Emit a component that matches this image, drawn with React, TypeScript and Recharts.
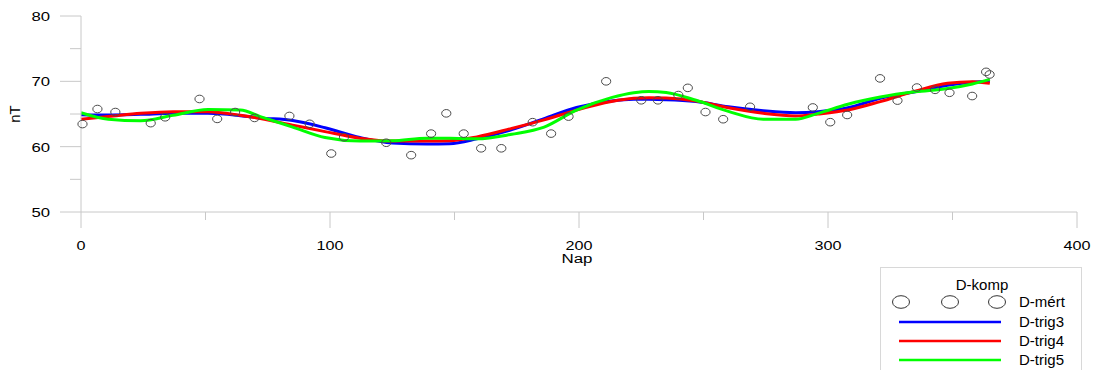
import { ComposedChart, Line, Scatter, XAxis, YAxis, Legend } from "recharts";

// D-komp, nT against Nap (day of year)
const xTicks = [0, 50, 100, 150, 200, 250, 300, 350, 400];
const yTicks = [50, 55, 60, 65, 70, 75, 80];

// measured values (D-mért)
const measDays = [
  0.6, 6.6, 13.8, 28.0, 33.8, 47.6, 54.7, 61.9, 69.7, 83.7, 91.8, 100.5, 105.6, 122.6,
  132.6, 140.6, 146.7, 153.7, 160.7, 168.8, 181.4, 188.8, 195.8, 210.9, 225.0, 231.7,
  239.9, 243.7, 250.8, 257.9, 268.7, 293.9, 300.9, 307.7, 320.9, 327.9, 335.7, 343.0,
  348.8, 357.9, 363.5, 364.9,
];
const measValues = [
  63.46, 65.76, 65.3, 63.6, 64.5, 67.3, 64.25, 65.3, 64.4, 64.7, 63.5, 58.95, 61.45, 60.6,
  58.7, 62.0, 65.1, 62.0, 59.75, 59.75, 63.75, 62.0, 64.6, 70.0, 67.1, 67.1,
  67.9, 69.0, 65.3, 64.2, 66.1, 66.0, 63.75, 64.85, 70.45, 67.05, 69.05, 68.7,
  68.25, 67.75, 71.45, 71.05,
];

const curveDays = [
  0, 11, 24, 37, 51, 64, 72, 85, 98, 112, 125, 139, 148, 159, 173, 186, 199, 213, 222,
  228, 235, 247, 260, 274, 287, 296, 308, 321, 335, 348, 358, 365,
];
const trig3 = [
  64.9, 64.85, 64.95, 65.1, 65.1, 64.75, 64.4, 64.0, 62.9, 61.4, 60.55, 60.4, 60.45, 61.2,
  62.6, 64.3, 66.0, 67.0, 67.25, 67.25, 67.2, 66.9, 66.1, 65.5, 65.2, 65.35, 65.95, 67.4,
  68.4, 69.4, 69.85, 70.0,
];
const trig4 = [
  64.2, 64.6, 65.1, 65.35, 65.35, 64.8, 64.3, 63.3, 62.3, 61.3, 60.85, 60.85, 60.9, 61.5,
  62.8, 64.1, 65.6, 66.9, 67.4, 67.5, 67.45, 67.0, 65.95, 65.1, 64.7, 65.0, 65.6, 66.9,
  68.5, 69.7, 69.95, 69.7,
];
const trig5 = [
  65.2, 64.2, 63.95, 64.8, 65.7, 65.6, 64.6, 63.0, 61.4, 60.85, 60.9, 61.3, 61.3, 61.2,
  61.9, 63.0, 65.6, 67.5, 68.25, 68.45, 68.3, 67.1, 65.4, 64.2, 64.2, 65.1, 66.5, 67.6,
  68.4, 68.9, 69.6, 70.3,
];

const measured = measDays.map((day, i) => ({ day, value: measValues[i] }));
const toLine = (vals: number[]) => curveDays.map((day, i) => ({ day, value: vals[i] }));

const series = [
  { name: "D-trig3", color: "#0000ff", data: toLine(trig3) },
  { name: "D-trig4", color: "#ff0000", data: toLine(trig4) },
  { name: "D-trig5", color: "#00ff00", data: toLine(trig5) },
];

const AXIS = "#c8c8c8";
const FONT = "'Liberation Sans', Arial, sans-serif";

function XTick({ x, y, payload }: any) {
  const major = payload.value % 100 === 0;
  const label = String(payload.value);
  return (
    <g>
      <line x1={x} x2={x} y1={y} y2={y + (major ? 16 : 8)} stroke={AXIS} />
      {major && (
        <text
          x={x}
          y={y + 38}
          textAnchor="middle"
          fontSize={13}
          fontFamily={FONT}
          fill="#000"
          textLength={label.length * 9}
          lengthAdjust="spacingAndGlyphs"
        >
          {label}
        </text>
      )}
    </g>
  );
}

function YTick({ x, y, payload }: any) {
  const major = payload.value % 10 === 0;
  const label = String(payload.value);
  return (
    <g>
      <line x1={x - (major ? 21 : 11)} x2={x} y1={y} y2={y} stroke={AXIS} />
      {major && (
        <text
          x={x - 31}
          y={y + 5}
          textAnchor="end"
          fontSize={13}
          fontFamily={FONT}
          fill="#000"
          textLength={label.length * 9.3}
          lengthAdjust="spacingAndGlyphs"
        >
          {label}
        </text>
      )}
    </g>
  );
}

function Ring({ cx, cy }: any) {
  return <ellipse cx={cx} cy={cy} rx={4.6} ry={3.8} fill="none" stroke="#4a4a4a" strokeWidth={1} />;
}

function LegendBox() {
  return (
    <div
      style={{
        width: 202,
        height: 103,
        borderTop: "1px solid #d8d8d8",
        borderLeft: "1px solid #d8d8d8",
        borderRight: "1px solid #d8d8d8",
        boxSizing: "border-box",
        background: "#fff",
      }}
    >
      <svg width={200} height={102} style={{ display: "block" }}>
        <text x={101} y={22} textAnchor="middle" fontSize={15} fontFamily={FONT}>
          D-komp
        </text>
        {[20, 69, 116].map((cx) => (
          <ellipse key={cx} cx={cx} cy={34} rx={8.5} ry={6.3} fill="none" stroke="#333" />
        ))}
        <text x={138} y={39} fontSize={15} fontFamily={FONT}>
          D-mért
        </text>
        {series.map((s, i) => (
          <g key={s.name}>
            <line x1={18} x2={120} y1={54 + i * 19} y2={54 + i * 19} stroke={s.color} strokeWidth={2.5} />
            <text x={138} y={59 + i * 19} fontSize={15} fontFamily={FONT}>
              {s.name}
            </text>
          </g>
        ))}
      </svg>
    </div>
  );
}

export default function App() {
  return (
    <div style={{ position: "absolute", left: 0, top: 0, background: "#fff" }}>
      <ComposedChart width={1095} height={370} margin={{ top: 16, right: 18, left: 0, bottom: 98 }}>
        <XAxis
          dataKey="day"
          type="number"
          domain={[0, 400]}
          ticks={xTicks}
          interval={0}
          height={60}
          stroke={AXIS}
          tickLine={false}
          tickSize={0}
          tickMargin={0}
          tick={<XTick />}
          label={({ viewBox }: any) => (
            <text
              x={viewBox.x + viewBox.width / 2 - 2}
              y={viewBox.y + 51}
              textAnchor="middle"
              fontSize={12}
              fontFamily={FONT}
              textLength={31}
              lengthAdjust="spacingAndGlyphs"
            >
              Nap
            </text>
          )}
        />
        <YAxis
          type="number"
          domain={[50, 80]}
          ticks={yTicks}
          interval={0}
          width={81}
          stroke={AXIS}
          tickLine={false}
          tickSize={0}
          tickMargin={0}
          tick={<YTick />}
          label={({ viewBox }: any) => (
            <text
              x={14}
              y={viewBox.y + viewBox.height / 2}
              transform={`rotate(-90 14 ${viewBox.y + viewBox.height / 2})`}
              textAnchor="middle"
              dominantBaseline="central"
              fontSize={15}
              fontFamily={FONT}
            >
              nT
            </text>
          )}
        />
        <Scatter name="D-mért" data={measured} dataKey="value" shape={<Ring />} isAnimationActive={false} />
        {series.map((s) => (
          <Line
            key={s.name}
            name={s.name}
            data={s.data}
            dataKey="value"
            type="monotone"
            stroke={s.color}
            strokeWidth={3}
            dot={false}
            activeDot={false}
            isAnimationActive={false}
          />
        ))}
        <Legend
          layout="vertical"
          align="center"
          verticalAlign="middle"
          content={() => <LegendBox />}
          wrapperStyle={{ left: 880, top: 267, width: 202, height: 103 }}
        />
      </ComposedChart>
    </div>
  );
}
